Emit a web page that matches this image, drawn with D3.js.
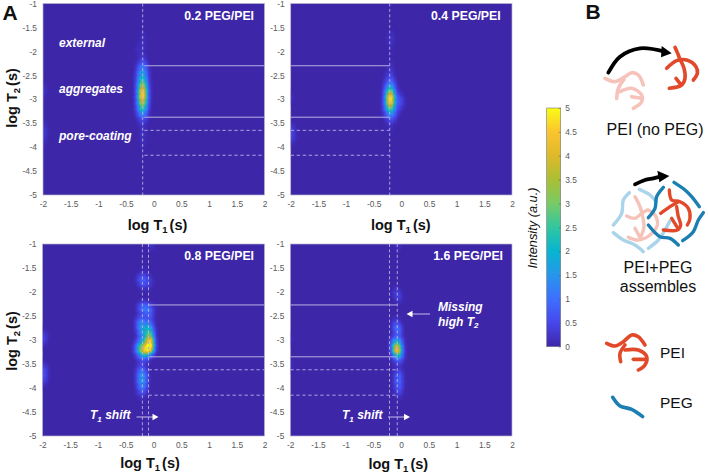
<!DOCTYPE html>
<html><head><meta charset="utf-8">
<script src="https://cdn.jsdelivr.net/npm/d3@7"></script>
<style>html,body{margin:0;padding:0;background:#fff}svg{display:block}text{font-family:"Liberation Sans",Arial,sans-serif}</style>
</head><body><svg id="c" width="708" height="474"></svg>
<script>
// ---- data -------------------------------------------------------------
const t1Ticks=[-2,-1.5,-1,-0.5,0,0.5,1,1.5,2];
const t2Ticks=[-1,-1.5,-2,-2.5,-3,-3.5,-4,-4.5,-5];
const cbTicks=[0,0.5,1,1.5,2,2.5,3,3.5,4,4.5,5];
const t1Cols=[-0.35,-0.30,-0.25,-0.20,-0.15,-0.10,-0.05,0,0.05,0.10];
const edgeCols=[-2,-1.95,-1.9,-1.85];
// rows: [log T2, intensity at each t1Cols entry (missing = 0)]
const heat02=[
[-1.6,0,0,.05,.15,.05],[-1.7,0,0,.1,.2,.1],[-1.8,0,0,.1,.2,.1],[-1.9,.05,.15,.15,.25,.1],[-2.0,.05,.2,.15,.2,.05],
[-2.1,0,.05,.15,.3,.1],[-2.2,0,.05,.3,.7,.3,.05],[-2.3,.05,.3,.9,1.4,.8,.2],[-2.4,.05,.5,1.3,1.8,1.2,.3,.05],[-2.5,.1,.7,1.6,2.2,1.5,.4,.05],
[-2.6,.1,.8,2.0,2.9,1.8,.5,.05],[-2.7,.1,.9,2.6,4.2,2.4,.6,.05],[-2.8,.1,1.0,3.1,5.9,2.9,.7,.1],[-2.9,.1,1.0,3.5,7.0,3.2,.7,.1],[-3.0,.1,1.0,3.1,6.0,2.9,.7,.1],
[-3.1,.1,.9,2.7,4.4,2.4,.6,.05],[-3.2,.1,.7,2.0,3.0,1.8,.5],[-3.3,.05,.5,1.2,1.8,1.1,.3],[-3.4,0,.2,.5,.9,.5,.1],[-3.5,0,.05,.15,.35,.15,.05],
[-3.6,0,0,.1,.3,.1],[-3.7,0,0,.1,.25,.1],[-3.8,0,0,.1,.25,.1],[-3.9,0,0,.05,.2,.05],[-4.0,0,0,.05,.15,.05]];
const heat04=[
[-1.6,0,0,.05,.15,.1],[-1.7,0,0,.1,.25,.2],[-1.8,0,0,.1,.25,.2],[-1.9,0,0,.05,.15,.1],[-2.0,0,0,.05,.1,.05],
[-2.1,0,0,0,.05,.05],[-2.2,0,0,.05,.1,.05],[-2.3,0,0,.05,.2,.1],[-2.4,0,.05,.15,.35,.15],[-2.5,0,.05,.3,.55,.3,.05],
[-2.6,0,.2,.6,.95,.6,.1],[-2.7,.05,.4,1.2,1.7,1.1,.3],[-2.8,.05,.7,2.0,3.1,2.0,.5,.1],[-2.9,.1,1.0,3.2,5.8,3.0,.8,.4,.2],[-3.0,.1,1.1,3.7,7.4,3.5,1.1,.8,.6,.2],
[-3.1,.1,1.0,3.2,5.8,3.0,1.0,.8,.5,.2],[-3.2,.1,.8,2.2,3.3,2.2,.8,.5,.2],[-3.3,.05,.4,1.2,1.9,1.3,.6,.2],[-3.4,0,.15,.5,.9,.7,.3],[-3.5,0,.05,.15,.3,.15,.05],
[-3.6,0,0,.05,.15,.05],[-3.7,0,0,.05,.1,.05]];
const heat08=[
[-1.0,0,0,0,0,0,.2,.5,.25],[-1.1,0,0,0,0,0,.05,.15,.05],[-1.5,0,0,0,.05,.05,.05],[-1.6,0,0,.1,.15,.15,.1],
[-1.7,0,.2,.7,.9,.7,.4,.2],[-1.8,0,.2,.7,1.0,.8,.6,.4,.1],[-1.9,0,0,.15,.3,.3,.2,.15],[-2.2,0,0,.1,.15,.15,.1],
[-2.3,0,.2,.9,1.3,1.3,1.0,.6,.15],[-2.4,0,.1,.6,.9,1.2,1.3,1.2,.4],[-2.5,0,.1,.3,.4,.4,.6,.7,.2],[-2.6,.05,.6,1.3,1.3,.8,.8,.7,.2],
[-2.7,.05,.7,1.7,1.8,1.6,1.7,1.5,.4],[-2.8,.05,.4,1.5,1.8,2.2,2.7,2.6,.8,.05],[-2.9,0,.2,.9,1.3,2.0,3.0,3.1,1.2,.05],[-3.0,.05,.3,1.0,1.6,2.4,4.4,6.0,1.8,.1],
[-3.1,.3,1.1,2.3,2.8,3.6,5.8,6.6,2.0,.15],[-3.2,.4,1.6,3.5,4.8,6.4,6.6,6.3,1.9,.15],[-3.3,.15,.7,1.6,2.2,2.5,2.0,1.1,.4],[-3.4,0,.15,.5,.8,.7,.4,.15],
[-3.5,0,.1,.2,.3,.15,.05],[-3.6,0,.3,.9,.9,.5,.15],[-3.7,.05,.5,1.4,1.6,1.1,.3],[-3.8,.05,.5,1.6,1.8,1.3,.3],[-3.9,.05,.4,1.4,1.7,1.2,.3],
[-4.0,0,.3,1.0,1.3,.9,.15],[-4.1,0,.15,.5,.7,.4,.05],[-4.2,0,.05,.15,.15,.05]];
const heat16=[
[-1.0,0,0,0,0,0,.15,.4,.15],[-1.1,0,0,0,0,0,.05,.15,.05],[-1.9,0,0,0,0,0,.1,.1],[-2.0,0,0,0,0,.15,.5,.4,.1],[-2.1,0,0,0,0,.05,.4,.7,.3],
[-2.2,0,0,0,0,0,.05,.15,.15],[-2.6,0,0,0,0,.15,.4,.3],[-2.7,0,0,0,0,.4,1.2,1.0,.3],[-2.8,0,0,0,0,.3,1.1,1.4,.7],[-2.9,0,0,0,0,.05,.3,.6,.3],
[-3.0,0,0,0,.1,1.2,1.9,1.7,1.0,.1],[-3.1,0,0,0,.2,1.8,3.5,3.2,1.6,.25],[-3.2,0,0,0,.2,1.9,6.6,5.6,2.1,.35],[-3.3,0,0,0,.05,1.0,2.8,3.0,1.8,.35],
[-3.4,0,0,0,0,.3,.9,1.2,.9,.2],[-3.5,0,0,0,0,.05,.15,.3,.2],[-3.6,0,0,0,0,.05,.15,.3,.15],[-3.7,0,0,0,0,.05,.5,.9,.6,.05],[-3.8,0,0,0,0,.1,.8,1.0,.8,.1],
[-3.9,0,0,0,0,.05,.7,1.0,.8,.1],[-4.0,0,0,0,0,.05,.5,.8,.7,.05],[-4.1,0,0,0,0,0,.3,.5,.4],[-4.2,0,0,0,0,0,.05,.15,.15]];
const edge02=[[-2.7,.2,.1],[-2.8,.35,.15,.05],[-2.9,.25,.1],[-3.5,.2,.1],[-3.6,.4,.2,.05],[-3.7,.5,.25,.05],[-3.8,.45,.2,.05],[-3.9,.25,.1],[-4.0,.1]];
const edge04=[[-2.9,.2,.05],[-3.0,.25,.1],[-3.5,.15,.05],[-3.6,.6,.3,.05],[-3.7,.7,.35,.1],[-3.8,.7,.35,.1],[-3.9,.4,.15]];
const edge08=[[-2.8,.15,.05],[-2.9,.7,.35,.1],[-3.0,.7,.35,.1],[-3.1,.3,.1],[-3.5,.3,.15],[-3.6,.9,.5,.15],[-3.7,1.0,.55,.15],[-3.8,.9,.5,.15],[-3.9,.45,.2,.05]];
const edge16=[[-2.9,.1],[-3.0,.2,.1],[-3.4,.1],[-3.5,.2,.1],[-3.6,.15,.05]];
const titles=["0.2 PEG/PEI","0.4 PEG/PEI","0.8 PEG/PEI","1.6 PEG/PEI"];
const parulaStops=[[62,38,168],[71,71,235],[62,111,255],[39,150,235],[8,181,208],[49,198,160],[120,203,103],[170,191,52],[222,185,42],[250,197,47],[249,251,20]];
// guide lines in log units
const vGuides=[[-0.2],[-0.21],[-0.2,-0.09],[-0.21,-0.07]];
const solidT2=[[-2.3,-3.375],[-2.3,-3.375],[-2.27,-3.35],[-2.27,-3.35]];
const dashT2=[[-3.65,-4.17],[-3.65,-4.17],[-3.62,-4.15],[-3.62,-4.15]];

// ---- panel layout -----------------------------------------------------
const panels=[
 {x0:43,  x1:264.5,y0:3.5,y1:195,heat:heat02,edge:edge02,lineFrom:-0.17,lineTo:2,titleR:254,titleY:20,labX:157.5,labY:230,ylabY:98},
 {x0:290.7,x1:512, y0:3.5,y1:195,heat:heat04,edge:edge04,lineFrom:-2,lineTo:-0.21,titleR:500.7,titleY:20,labX:400.8,labY:230},
 {x0:42.5,x1:264.5,y0:244,y1:436,heat:heat08,edge:edge08,lineFrom:-0.09,lineTo:2,titleR:254,titleY:260,labX:150,labY:468,ylabY:341},
 {x0:290.3,x1:512, y0:244,y1:436,heat:heat16,edge:edge16,lineFrom:-2,lineTo:-0.07,titleR:503,titleY:260,labX:398.3,labY:469}];
const svg=d3.select("#c");
const defs=svg.append("defs");
const color=d3.scaleLinear().domain(parulaStops.map((d,i)=>i/2)).range(parulaStops.map(d=>`rgb(${d})`)).interpolate(d3.interpolateRgb).clamp(true);
const f=defs.append("filter").attr("id","soft").attr("filterUnits","userSpaceOnUse").attr("x",0).attr("y",0).attr("width",708).attr("height",474).attr("color-interpolation-filters","sRGB");
f.append("feGaussianBlur").attr("stdDeviation",0.5);
const fs=defs.append("filter").attr("id","ink").attr("filterUnits","userSpaceOnUse").attr("x",0).attr("y",0).attr("width",708).attr("height",474);
fs.append("feGaussianBlur").attr("stdDeviation",0.3);
const tickCol="#5a5a5a", guide="#b4b0e2";

// expand the coarse readings to a fine raster and smooth it in value space
const SUB_X=2, SUB_Y=4, STEP_T1=0.05, STEP_T2=0.1;
function raster(rows,cols){
  const top=d3.max(rows,r=>r[0])+0.3, bottom=d3.min(rows,r=>r[0])-0.3;
  const left=cols[0]-0.15, right=cols[cols.length-1]+0.15;
  const width=Math.round((right-left)/STEP_T1*SUB_X), height=Math.round((top-bottom)/STEP_T2*SUB_Y);
  const data=new Float64Array(width*height);
  rows.forEach(r=>r.slice(1).forEach((v,k)=>{
    const cx=Math.round((cols[k]-STEP_T1/2-left)/STEP_T1*SUB_X), cy=Math.round((top-r[0]-STEP_T2/2)/STEP_T2*SUB_Y);
    for(let a=0;a<SUB_X;a++)for(let b=0;b<SUB_Y;b++){const j=(cy+b)*width+cx+a;if(cy+b>=0&&cy+b<height&&cx+a>=0&&cx+a<width)data[j]=v;}
  }));
  d3.blur2({data,width,height},1.0,1.6);
  const out=[];
  for(let b=0;b<height;b++)for(let a=0;a<width;a++){const v=data[b*width+a];
    if(v>0.015)out.push({t1:left+a*STEP_T1/SUB_X,t2:top-b*STEP_T2/SUB_Y,v});}
  return out;
}

panels.forEach((p,i)=>{
  const x=d3.scaleLinear().domain([-2,2]).range([p.x0,p.x1]);
  const y=d3.scaleLinear().domain([-1,-5]).range([p.y0,p.y1]);
  const g=svg.append("g");
  const id="clip"+i;
  defs.append("clipPath").attr("id",id).append("rect").attr("x",p.x0).attr("y",p.y0).attr("width",p.x1-p.x0).attr("height",p.y1-p.y0);
  g.append("rect").attr("x",p.x0).attr("y",p.y0).attr("width",p.x1-p.x0).attr("height",p.y1-p.y0).attr("fill",color(0));
  const heatG=g.append("g").attr("clip-path",`url(#${id})`).append("g").attr("filter","url(#soft)");
  const dx=STEP_T1/SUB_X, dy=STEP_T2/SUB_Y;
  heatG.selectAll("rect.c").data(raster(p.heat,t1Cols).concat(raster(p.edge,edgeCols))).join("rect").attr("class","c")
    .attr("x",d=>x(d.t1)).attr("width",d=>x(d.t1+dx)-x(d.t1)+.3)
    .attr("y",d=>y(d.t2)).attr("height",d=>y(d.t2-dy)-y(d.t2)+.3)
    .attr("fill",d=>color(d.v));
  g.append("rect").attr("x",p.x0).attr("y",p.y0).attr("width",p.x1-p.x0).attr("height",p.y1-p.y0).attr("fill","none").attr("stroke","#b9b6cf").attr("stroke-width",.7);
  // axes
  const ax=g.append("g").attr("transform",`translate(0,${p.y1+3})`).call(d3.axisBottom(x).tickValues(t1Ticks).tickSize(0).tickFormat(d3.format("")));
  const ay=g.append("g").attr("transform",`translate(${p.x0-3},0)`).call(d3.axisLeft(y).tickValues(t2Ticks).tickSize(0).tickFormat(d3.format("")));
  [ax,ay].forEach(a=>{a.select(".domain").remove();a.selectAll("text").attr("fill",tickCol).attr("font-size",8.4).text(function(){return this.textContent.replace("−","-")});});
  // guides
  vGuides[i].forEach(v=>g.append("line").attr("x1",x(v)).attr("x2",x(v)).attr("y1",p.y0).attr("y2",p.y1).attr("stroke",guide).attr("stroke-width",.9).attr("stroke-dasharray","3 2.4"));
  solidT2[i].forEach(v=>g.append("line").attr("x1",x(p.lineFrom)).attr("x2",x(p.lineTo)).attr("y1",y(v)).attr("y2",y(v)).attr("stroke",guide).attr("stroke-width",1));
  dashT2[i].forEach(v=>g.append("line").attr("x1",x(p.lineFrom)).attr("x2",x(p.lineTo)).attr("y1",y(v)).attr("y2",y(v)).attr("stroke",guide).attr("stroke-width",.9).attr("stroke-dasharray","3.4 2.6"));
  // title
  g.append("text").attr("x",p.titleR).attr("y",p.titleY).attr("text-anchor","end").attr("fill","#fff").attr("font-size",12.3).attr("font-weight","bold").text(titles[i]);
  // axis titles
  const subLabel=(sel,n)=>{sel.append("tspan").text("log T");sel.append("tspan").attr("font-size",9.5).attr("dy",3).text(n);sel.append("tspan").attr("dy",-3).attr("dx",2).text("(s)");};
  const xlab=g.append("text").attr("x",p.labX).attr("y",p.labY).attr("text-anchor","middle").attr("font-size",14.5).attr("font-weight","bold").attr("fill","#111");
  subLabel(xlab,"1");
  if(i%2==0){const yl=g.append("text").attr("transform",`translate(17,${p.ylabY}) rotate(-90)`).attr("text-anchor","middle").attr("font-size",14.5).attr("font-weight","bold").attr("fill","#111");subLabel(yl,"2");}
});

// ---- text annotations --------------------------------------------------
const wi=(x,y,s)=>svg.append("text").attr("x",x).attr("y",y).attr("fill","#fff").attr("font-size",12).attr("font-weight","bold").attr("font-style","italic").text(s);
wi(59,47,"external");wi(59,92.5,"aggregates");wi(59,140,"pore-coating");
const shift=(x,ax0,ax1)=>{const t=wi(x,419,"T");t.append("tspan").attr("font-size",8).attr("dy",2.5).text("1");t.append("tspan").attr("dy",-2.5).text(" shift");
  svg.append("line").attr("x1",ax0).attr("x2",ax1-5).attr("y1",417).attr("y2",417).attr("stroke",guide).attr("stroke-width",1.1);
  svg.append("path").attr("d",d3.line()([[ax1-6,413.7],[ax1,417],[ax1-6,420.3]])+"Z").attr("fill","#fff");};
shift(90,136.5,158.5);shift(342,388,410);
wi(438,311,"Missing");
const h=wi(438,325.7,"high T");h.append("tspan").attr("font-size",8).attr("dy",2.5).text("2");
svg.append("line").attr("x1",430).attr("x2",411).attr("y1",314).attr("y2",314).attr("stroke",guide).attr("stroke-width",1.1);
svg.append("path").attr("d",d3.line()([[412.5,310.7],[406.5,314],[412.5,317.3]])+"Z").attr("fill","#fff");
svg.append("text").attr("x",2.5).attr("y",20).attr("font-size",21).attr("font-weight","bold").attr("fill","#111").text("A");
svg.append("text").attr("x",585.5).attr("y",19).attr("font-size",21).attr("font-weight","bold").attr("fill","#111").text("B");

// ---- colour bar --------------------------------------------------------
const cb={x0:546.7,x1:560.7,y0:108,y1:346.7};
const cy=d3.scaleLinear().domain([0,5]).range([cb.y1,cb.y0]);
const grad=defs.append("linearGradient").attr("id","cbg").attr("x1",0).attr("x2",0).attr("y1",1).attr("y2",0);
parulaStops.forEach((d,i)=>grad.append("stop").attr("offset",i/10).attr("stop-color",`rgb(${d})`));
svg.append("rect").attr("x",cb.x0).attr("y",cb.y0).attr("width",cb.x1-cb.x0).attr("height",cb.y1-cb.y0).attr("fill","url(#cbg)").attr("stroke","#777").attr("stroke-width",.6);
const cbAx=svg.append("g").attr("transform",`translate(${cb.x1},0)`).call(d3.axisRight(cy).tickValues(cbTicks).tickSize(0).tickPadding(4.5).tickFormat(d3.format("")));
cbAx.select(".domain").remove();
cbAx.selectAll("text").attr("fill",tickCol).attr("font-size",8.4);
cbAx.selectAll("line").attr("x2",-2).attr("stroke","#555").attr("stroke-width",.5);
svg.append("text").attr("transform","translate(536.5,228) rotate(-90)").attr("text-anchor","middle").attr("font-size",12.8).attr("font-style","italic").attr("fill","#111").text("Intensity (a.u.)");

// ---- schematic (panel B) ----------------------------------------------
const RED="#e24a2a",PINK="#f5c3ba",DBLUE="#1c7fb2",LBLUE="#aad4e9";
const curve=d3.line().curve(d3.curveCatmullRom.alpha(.5));
const peiTopPale=[[[105,235],[135,245],[165,230],[185,218],[205,225],[220,255]],[[162,238],[145,265],[140,295]],[[150,275],[185,265],[215,285],[215,305],[190,325]],[[185,290],[215,295]]];
const peiTopRed=[[[315,142],[325,165],[330,178]],[[290,205],[320,182],[350,180],[378,200],[382,220],[370,240]],[[330,178],[342,205],[345,235],[335,255],[298,265]],[[318,235],[332,253]]];
const arrowTop=[[115,218],[150,170],[210,145],[285,155]];
const arrowTopHead=[[275,138],[305,160],[273,172]];
const midLightBlue=[[[178,128],[160,150],[155,190],[130,225]],[[208,118],[240,135],[258,155]],[[130,248],[160,270],[195,285],[220,305]],[[235,295],[265,270],[285,240],[300,212]]];
const midPink=[[[170,198],[195,205],[215,190],[232,180]],[[195,140],[210,170],[218,200],[222,230],[212,262]],[[175,262],[205,270],[240,255],[262,225],[255,195],[235,180]],[[195,235],[210,262]]];
const midDarkBlue=[[[280,112],[260,140],[255,175],[235,203]],[[312,97],[345,120],[365,140],[388,170]],[[235,225],[270,260],[300,265],[325,285]],[[338,272],[370,245],[385,210],[400,188]]];
const midRed=[[[298,120],[305,150],[330,155],[355,175],[360,205],[352,225]],[[272,190],[300,170],[325,155]],[[320,170],[325,200],[332,225],[322,240],[280,240]],[[305,205],[322,232]]];
const arrowMid=[[195,103],[225,90],[250,85],[270,80]];
const arrowMidHead=[[262,62],[298,78],[268,97]];
const legPei=[[[110,70],[135,78],[160,65],[185,45],[205,50],[225,75]],[[165,75],[150,100],[152,125]],[[165,90],[205,90],[230,110],[225,135],[205,150]],[[190,118],[225,118]]];
const legPeg=[[[128,232],[150,258],[185,268],[218,290]]];
function sketch(ox,oy,paths,col,w){const zx=d3.scaleLinear().domain([0,3]).range([ox,ox+1]),zy=d3.scaleLinear().domain([0,3]).range([oy,oy+1]);
  svg.append("g").attr("filter","url(#ink)").selectAll("path").data(paths).join("path").attr("d",d=>curve(d.map(q=>[zx(q[0]),zy(q[1])]))).attr("fill","none").attr("stroke",col).attr("stroke-width",w).attr("stroke-linecap","round").attr("stroke-linejoin","round");}
function head(ox,oy,pts){const zx=d3.scaleLinear().domain([0,3]).range([ox,ox+1]),zy=d3.scaleLinear().domain([0,3]).range([oy,oy+1]);
  svg.append("path").attr("d",d3.line()(pts.map(q=>[zx(q[0]),zy(q[1])]))+"Z").attr("fill","#000");}
sketch(570,0,peiTopPale,PINK,3.6);
sketch(570,0,peiTopRed,RED,3.6);
sketch(570,0,[arrowTop],"#000",3.8);head(570,0,arrowTopHead);
sketch(570,150,midLightBlue,LBLUE,3.4);
sketch(570,150,midPink,PINK,3.4);
sketch(570,150,midDarkBlue,DBLUE,3.4);
sketch(570,150,midRed,RED,3.4);
sketch(570,150,[arrowMid],"#000",3.8);head(570,150,arrowMidHead);
sketch(570,320,legPei,RED,3.6);
sketch(570,320,legPeg,DBLUE,3.6);
const bl=(x,y,s,a,fs0)=>svg.append("text").attr("x",x).attr("y",y).attr("text-anchor",a||"start").attr("font-size",fs0||16).attr("fill","#111").text(s);
bl(655,135,"PEI (no PEG)","middle");bl(658,273,"PEI+PEG","middle");bl(658,291.5,"assembles","middle");bl(660,358,"PEI","start",15.5);bl(660,408,"PEG","start",15.5);
</script></body></html>
